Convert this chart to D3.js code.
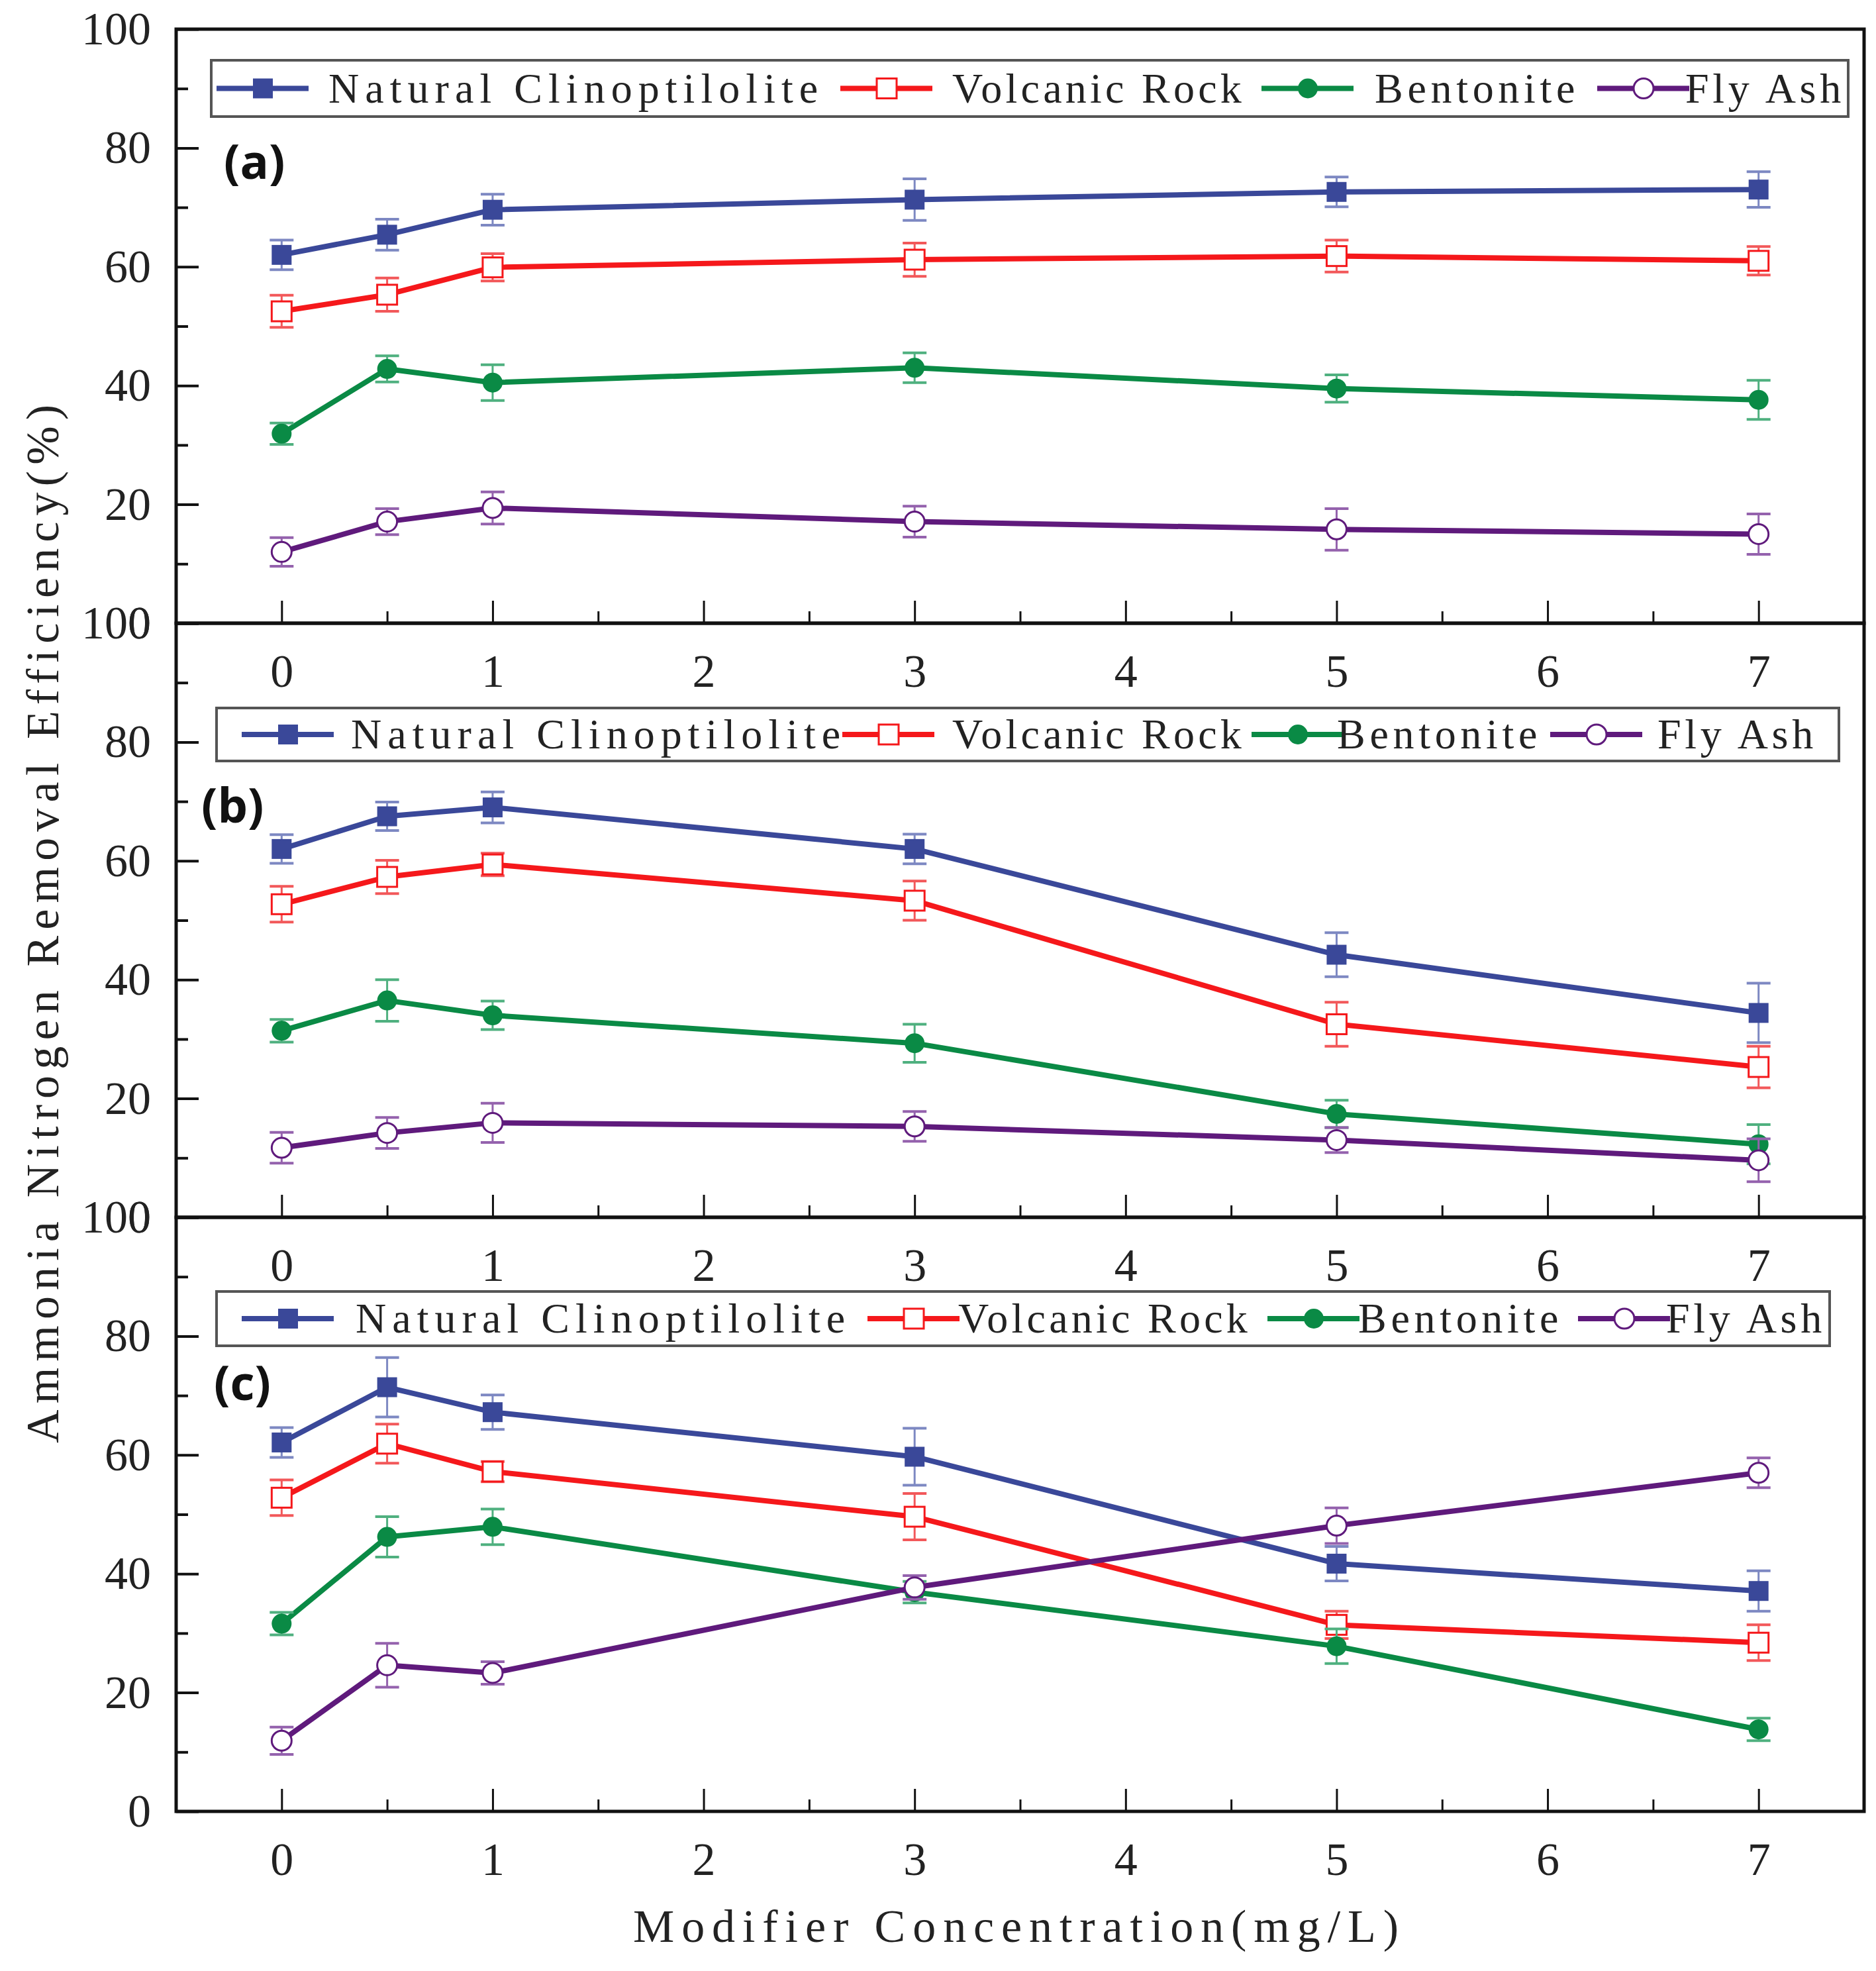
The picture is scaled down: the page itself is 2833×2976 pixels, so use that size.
<!DOCTYPE html>
<html>
<head>
<meta charset="utf-8">
<script src="https://cdn.jsdelivr.net/npm/d3@7"></script>
<style>
  body { margin: 0; background: #fff; }
  text { font-family: "Liberation Serif", "DejaVu Serif", serif; fill: #222; }
  .plabel { font-family: "Open Sans", "Liberation Sans", sans-serif; font-weight: bold; fill: #111; }
</style>
</head>
<body>
<div class="interactive"></div>
<script>
// modifier concentration (mg/L)
var conc = [0, 0.5, 1, 3, 5, 7];
var seriesNames = ["Natural Clinoptilolite", "Volcanic Rock", "Bentonite", "Fly Ash"];
var panelLabels = ["(a)", "(b)", "(c)"];
var xTicks = [0, 1, 2, 3, 4, 5, 6, 7];
var yTicks = [0, 20, 40, 60, 80, 100];

// panel (a)
var aClino    = [62.0, 65.4, 69.6, 71.3, 72.6, 73.0];
var aVolcanic = [52.5, 55.3, 59.9, 61.2, 61.8, 61.0];
var aBento    = [31.9, 42.8, 40.5, 43.0, 39.5, 37.6];
var aFly      = [12.0, 17.1, 19.4, 17.1, 15.8, 15.0];
var aClinoErr    = [2.5, 2.6, 2.6, 3.5, 2.5, 3.0];
var aVolcanicErr = [2.7, 2.8, 2.3, 2.8, 2.7, 2.4];
var aBentoErr    = [1.8, 2.2, 3.0, 2.5, 2.3, 3.3];
var aFlyErr      = [2.4, 2.2, 2.7, 2.6, 3.5, 3.4];

// panel (b)
var bClino    = [62.0, 67.5, 69.0, 62.0, 44.2, 34.4];
var bVolcanic = [52.7, 57.3, 59.4, 53.3, 32.5, 25.3];
var bBento    = [31.4, 36.5, 34.0, 29.3, 17.4, 12.3];
var bFly      = [11.7, 14.2, 15.9, 15.3, 13.0, 9.6];
var bClinoErr    = [2.4, 2.4, 2.6, 2.5, 3.7, 5.0];
var bVolcanicErr = [3.0, 2.8, 1.9, 3.3, 3.7, 3.5];
var bBentoErr    = [1.9, 3.5, 2.4, 3.2, 2.3, 3.3];
var bFlyErr      = [2.6, 2.6, 3.3, 2.5, 2.1, 3.6];

// panel (c)
var cClino    = [62.1, 71.4, 67.2, 59.7, 41.7, 37.1];
var cVolcanic = [52.8, 61.9, 57.2, 49.6, 31.4, 28.4];
var cBento    = [31.6, 46.2, 47.9, 36.9, 27.8, 13.8];
var cFly      = [11.9, 24.6, 23.3, 37.7, 48.1, 57.0];
var cClinoErr    = [2.5, 5.0, 2.9, 4.8, 2.9, 3.4];
var cVolcanicErr = [3.0, 3.3, 1.7, 3.9, 2.3, 3.0];
var cBentoErr    = [1.9, 3.4, 3.0, 1.8, 2.9, 1.9];
var cFlyErr      = [2.3, 3.7, 1.9, 2.0, 3.0, 2.5];

var panelValues = [
    [aClino, aVolcanic, aBento, aFly],
    [bClino, bVolcanic, bBento, bFly],
    [cClino, cVolcanic, cBento, cFly]
];
var panelErrors = [
    [aClinoErr, aVolcanicErr, aBentoErr, aFlyErr],
    [bClinoErr, bVolcanicErr, bBentoErr, bFlyErr],
    [cClinoErr, cVolcanicErr, cBentoErr, cFlyErr]
];

var lineColors = ["#3a4899", "#f5181b", "#0a8a45", "#5f1a7c"];
var errColors  = ["#7d88c2", "#f2585a", "#4fb07f", "#9462ad"];
var markerType = ["square", "squareOpen", "circle", "circleOpen"];

var width = 2833;
var height = 2976;
var left = 266, right = 2815;
var panelTop = [44, 941, 1838];
var panelH = 897;
var charW = 33.6;   // the legend font is monospaced in the original

// legend placement per panel: box, then [line start, text start] for each item
var legendBox = [[319, 91, 2472, 85], [327, 1069, 2450, 80], [327, 1950, 2436, 82]];
var legendItems = [
    [[327, 496], [1269, 1438], [1905, 2076], [2412, 2545]],
    [[365, 530], [1272, 1438], [1890, 2019], [2341, 2503]],
    [[365, 537], [1310, 1447], [1914, 2051], [2383, 2516]]
];
var panelLabelPos = [[338, 270], [304, 1242], [323, 2114]];

var svg = d3.select(".interactive")
    .append("svg")
    .attr("width", width)
    .attr("height", height);

svg.append("rect").attr("width", width).attr("height", height).attr("fill", "#fff");

var x = d3.scaleLinear().domain([-0.5, 7.5]).range([left, right]);

function drawMarker(g, type, cx, cy, color, size) {
    if (type === "square" || type === "squareOpen") {
        g.append("rect")
            .attr("x", cx - size / 2).attr("y", cy - size / 2)
            .attr("width", size).attr("height", size)
            .attr("fill", type === "square" ? color : "#fff")
            .attr("stroke", color)
            .attr("stroke-width", type === "square" ? 0 : 3);
    } else {
        g.append("circle")
            .attr("cx", cx).attr("cy", cy)
            .attr("r", size / 2)
            .attr("fill", type === "circle" ? color : "#fff")
            .attr("stroke", color)
            .attr("stroke-width", type === "circle" ? 0 : 3);
    }
}

panelValues.forEach(function (vals, p) {
    var top = panelTop[p];
    var y = d3.scaleLinear().domain([0, 100]).range([top + panelH, top]);
    var g = svg.append("g");

    // y axis, ticks inside
    g.append("g")
        .attr("transform", "translate(" + left + ",0)")
        .call(d3.axisLeft(y).tickValues([10, 30, 50, 70, 90]).tickSizeInner(-18).tickSizeOuter(0).tickFormat(""))
        .call(function (a) { a.select(".domain").remove(); })
        .selectAll("line").attr("stroke", "#111").attr("stroke-width", 4);
    var ya = g.append("g")
        .attr("transform", "translate(" + left + ",0)")
        .call(d3.axisLeft(y).tickValues(yTicks).tickSizeInner(-34).tickSizeOuter(0).tickPadding(38));
    ya.select(".domain").remove();
    ya.selectAll("line").attr("stroke", "#111").attr("stroke-width", 4);
    ya.selectAll("text").style("font-size", "70px").attr("fill", "#222");

    // x axis, ticks inside
    var xb = top + panelH;
    g.append("g")
        .attr("transform", "translate(0," + xb + ")")
        .call(d3.axisBottom(x).tickValues([0.5, 1.5, 2.5, 3.5, 4.5, 5.5, 6.5]).tickSizeInner(-18).tickSizeOuter(0).tickFormat(""))
        .call(function (a) { a.select(".domain").remove(); })
        .selectAll("line").attr("stroke", "#111").attr("stroke-width", 3);
    var xa = g.append("g")
        .attr("transform", "translate(0," + xb + ")")
        .call(d3.axisBottom(x).tickValues(xTicks).tickSizeInner(-34).tickSizeOuter(0).tickPadding(46));
    xa.select(".domain").remove();
    xa.selectAll("line").attr("stroke", "#111").attr("stroke-width", 3);
    xa.selectAll("text").style("font-size", "70px").attr("fill", "#222");

    // frame
    g.append("rect")
        .attr("x", left).attr("y", top)
        .attr("width", right - left).attr("height", panelH)
        .attr("fill", "none").attr("stroke", "#111").attr("stroke-width", 5);

    // legend
    var lb = legendBox[p];
    g.append("rect")
        .attr("x", lb[0]).attr("y", lb[1]).attr("width", lb[2]).attr("height", lb[3])
        .attr("fill", "#fff").attr("stroke", "#555").attr("stroke-width", 4);
    var ly = lb[1] + lb[3] / 2;
    seriesNames.forEach(function (name, s) {
        var it = legendItems[p][s];
        g.append("line")
            .attr("x1", it[0]).attr("x2", it[0] + 139)
            .attr("y1", ly).attr("y2", ly)
            .attr("stroke", lineColors[s]).attr("stroke-width", 8);
        drawMarker(g, markerType[s], it[0] + 70, ly, lineColors[s], 30);
        g.append("text")
            .attr("x", it[1]).attr("y", ly)
            .attr("dy", "0.33em")
            .attr("textLength", name.length * charW)
            .attr("lengthAdjust", "spacing")
            .style("font-size", "64px")
            .text(name);
    });

    // panel label
    g.append("text")
        .attr("class", "plabel")
        .attr("x", panelLabelPos[p][0]).attr("y", panelLabelPos[p][1])
        .style("font-size", "72px")
        .text(panelLabels[p]);

    // series
    var line = d3.line()
        .x(function (d, i) { return x(conc[i]); })
        .y(function (d) { return y(d); });

    vals.forEach(function (v, s) {
        g.append("path")
            .datum(v)
            .attr("fill", "none")
            .attr("stroke", lineColors[s])
            .attr("stroke-width", 8)
            .attr("stroke-linejoin", "round")
            .attr("d", line);
    });
    vals.forEach(function (v, s) {
        var err = panelErrors[p][s];
        var eg = g.append("g");
        v.forEach(function (d, i) {
            var cx = x(conc[i]);
            var y1 = y(d + err[i]), y2 = y(d - err[i]);
            eg.append("line").attr("x1", cx).attr("x2", cx).attr("y1", y1).attr("y2", y2)
                .attr("stroke", errColors[s]).attr("stroke-width", 3);
            [y1, y2].forEach(function (yy) {
                eg.append("line").attr("x1", cx - 18).attr("x2", cx + 18).attr("y1", yy).attr("y2", yy)
                    .attr("stroke", errColors[s]).attr("stroke-width", 4);
            });
            drawMarker(eg, markerType[s], cx, y(d), lineColors[s], 30);
        });
    });
});

// axis titles
var xTitle = "Modifier Concentration(mg/L)";
svg.append("text")
    .attr("x", 1534)
    .attr("y", 2932)
    .attr("text-anchor", "middle")
    .attr("textLength", 1156)
    .attr("lengthAdjust", "spacing")
    .style("font-size", "70px")
    .text(xTitle);

var yTitle = "Ammonia Nitrogen Removal Efficiency(%)";
svg.append("text")
    .attr("transform", "translate(63,1395) rotate(-90)")
    .attr("text-anchor", "middle")
    .attr("dy", "0.35em")
    .attr("textLength", 1568)
    .attr("lengthAdjust", "spacing")
    .style("font-size", "70px")
    .text(yTitle);
</script>
</body>
</html>
